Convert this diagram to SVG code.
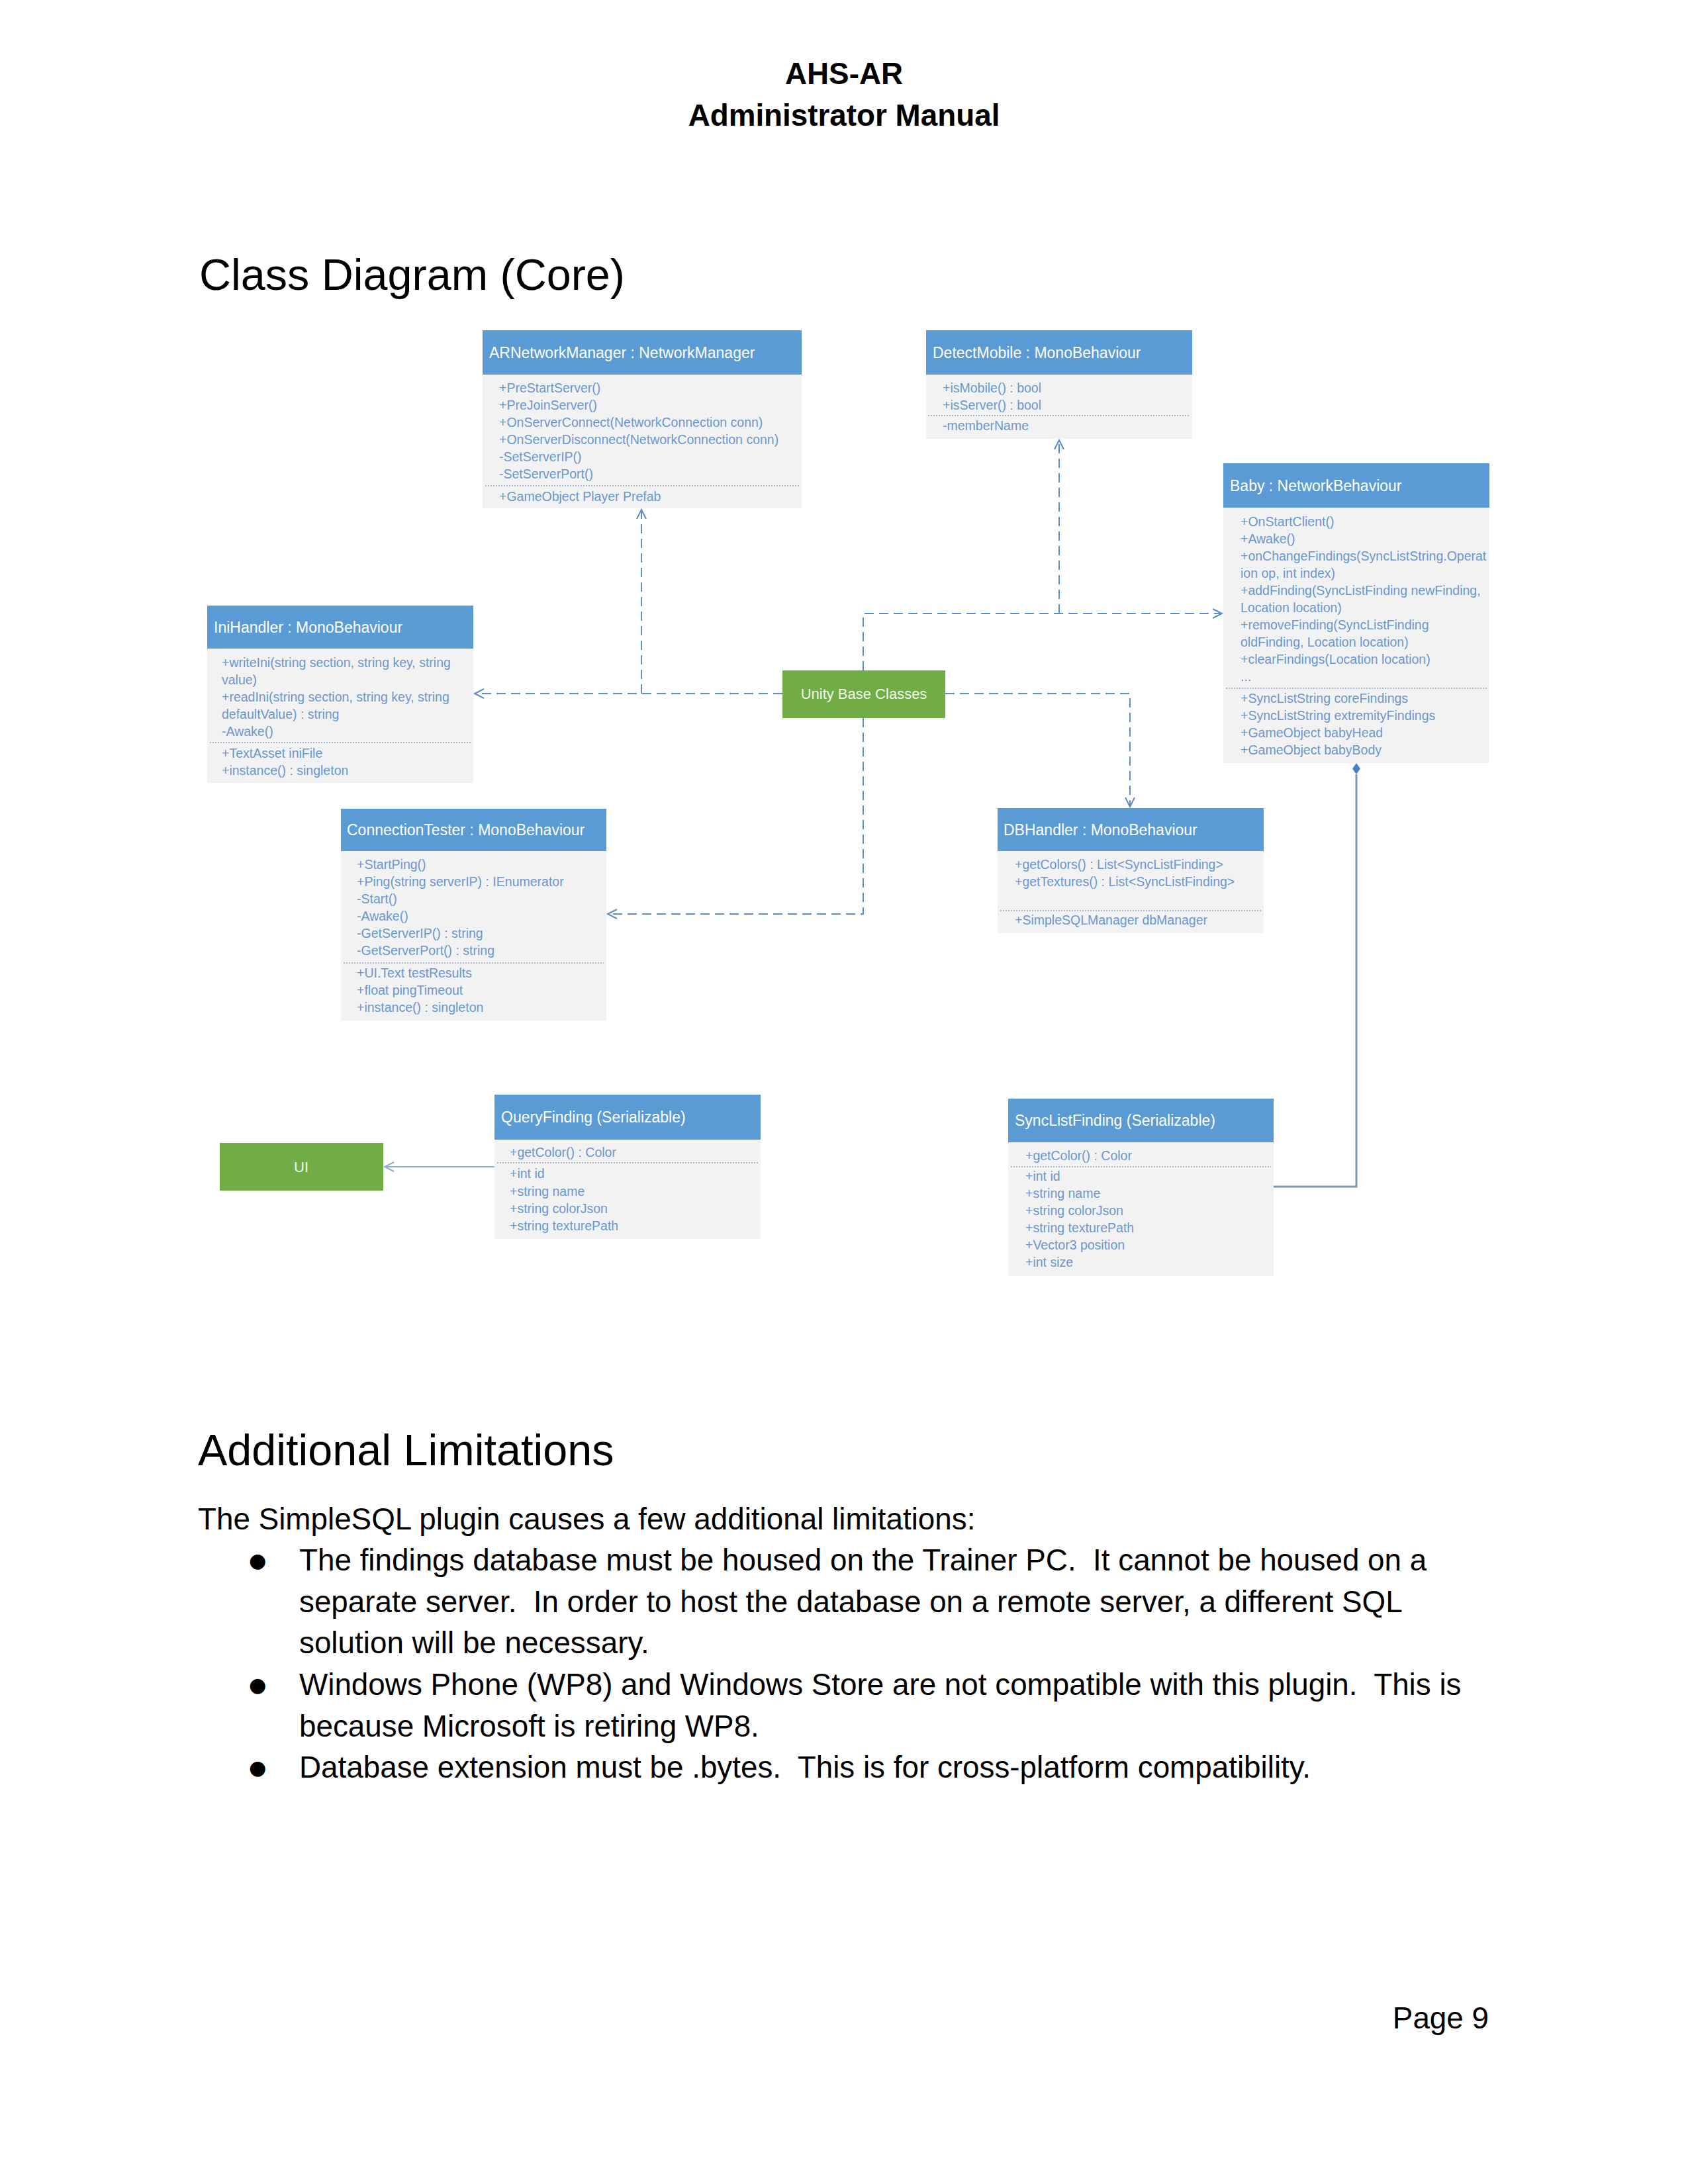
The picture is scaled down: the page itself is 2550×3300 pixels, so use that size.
<svg xmlns="http://www.w3.org/2000/svg" width="2550" height="3300" viewBox="0 0 2550 3300">
<style>
.page{font-family:"Liberation Sans",Arial,sans-serif;fill:#000}
.page text{white-space:pre}
.hdr{fill:#5B9BD5}
.bdy{fill:#F2F2F2}
.ht{font-family:"Liberation Sans",Arial,sans-serif;font-size:23px;fill:#ffffff}
.it{font-family:"Liberation Sans",Arial,sans-serif;font-size:19.5px;fill:#6b97cf}
.sep{stroke:#8ea3c0;stroke-width:1.5;stroke-dasharray:2 2;fill:none}
.grn{fill:#70AD47}
.gt{font-family:"Liberation Sans",Arial,sans-serif;font-size:22px;fill:#f2f8ec;text-anchor:middle}
.dash{stroke:#5d8cc6;stroke-width:2;fill:none;stroke-dasharray:14 8}
.bul{font-family:"DejaVu Sans",sans-serif;font-size:30px}
</style>
<defs>
<marker id="open" markerWidth="20" markerHeight="20" refX="15" refY="8" orient="auto" markerUnits="userSpaceOnUse">
<path d="M1,1 L15,8 L1,15" fill="none" stroke="#5d8cc6" stroke-width="2"/>
</marker>
<marker id="open2" markerWidth="20" markerHeight="20" refX="15" refY="8" orient="auto" markerUnits="userSpaceOnUse">
<path d="M1,1 L15,8 L1,15" fill="none" stroke="#8fb0d8" stroke-width="2"/>
</marker>
</defs>
<rect width="2550" height="3300" fill="#ffffff"/>

<g id="page-header" class="page">
<text x="1275" y="127" font-size="45.8" font-weight="bold" text-anchor="middle">AHS-AR</text>
<text x="1275" y="190" font-size="45.8" font-weight="bold" text-anchor="middle">Administrator Manual</text>
<text x="301" y="438" font-size="66.5">Class Diagram (Core)</text>
</g>

<g id="connectors">
<path class="dash" d="M1182,1048 H717" marker-end="url(#open)"/>
<path class="dash" d="M969,1048 V770" marker-end="url(#open)"/>
<path class="dash" d="M1304,1013 V927 H1846" marker-end="url(#open)"/>
<path class="dash" d="M1600,927 V665" marker-end="url(#open)"/>
<path class="dash" d="M1428,1048 H1707 V1219" marker-end="url(#open)"/>
<path class="dash" d="M1304,1085 V1381 H918" marker-end="url(#open)"/>
<path d="M747,1763 H581" stroke="#8fb0d8" stroke-width="2" fill="none" marker-end="url(#open2)"/>
<path d="M1924,1793 H2049 V1170" stroke="#8197b1" stroke-width="3" fill="none"/>
<path d="M2049,1153 L2055,1161.5 L2049,1170 L2043,1161.5 Z" fill="#4a80c8"/>
</g>

<g id="ARNetworkManager">
<rect class="bdy" x="729" y="499" width="482" height="269"/>
<rect class="hdr" x="729" y="499" width="482" height="67"/>
<text class="ht" x="739" y="541">ARNetworkManager : NetworkManager</text>
<text class="it" x="754" y="593">+PreStartServer()</text>
<text class="it" x="754" y="619">+PreJoinServer()</text>
<text class="it" x="754" y="645">+OnServerConnect(NetworkConnection conn)</text>
<text class="it" x="754" y="671">+OnServerDisconnect(NetworkConnection conn)</text>
<text class="it" x="754" y="697">-SetServerIP()</text>
<text class="it" x="754" y="723">-SetServerPort()</text>
<line class="sep" x1="733" y1="734" x2="1207" y2="734"/>
<text class="it" x="754" y="757">+GameObject Player Prefab</text>
</g>

<g id="DetectMobile">
<rect class="bdy" x="1399" y="499" width="402" height="164"/>
<rect class="hdr" x="1399" y="499" width="402" height="67"/>
<text class="ht" x="1409" y="541">DetectMobile : MonoBehaviour</text>
<text class="it" x="1424" y="593">+isMobile() : bool</text>
<text class="it" x="1424" y="619">+isServer() : bool</text>
<line class="sep" x1="1402" y1="628" x2="1798" y2="628"/>
<text class="it" x="1424" y="650">-memberName</text>
</g>

<g id="Baby">
<rect class="bdy" x="1848" y="700" width="402" height="453"/>
<rect class="hdr" x="1848" y="700" width="402" height="67"/>
<text class="ht" x="1858" y="742">Baby : NetworkBehaviour</text>
<text class="it" x="1874" y="795">+OnStartClient()</text>
<text class="it" x="1874" y="821">+Awake()</text>
<text class="it" x="1874" y="847">+onChangeFindings(SyncListString.Operat</text>
<text class="it" x="1874" y="873">ion op, int index)</text>
<text class="it" x="1874" y="899">+addFinding(SyncListFinding newFinding,</text>
<text class="it" x="1874" y="925">Location location)</text>
<text class="it" x="1874" y="951">+removeFinding(SyncListFinding</text>
<text class="it" x="1874" y="977">oldFinding, Location location)</text>
<text class="it" x="1874" y="1003">+clearFindings(Location location)</text>
<text class="it" x="1874" y="1029" font-size="14">...</text>
<line class="sep" x1="1852" y1="1040" x2="2246" y2="1040"/>
<text class="it" x="1874" y="1062">+SyncListString coreFindings</text>
<text class="it" x="1874" y="1088">+SyncListString extremityFindings</text>
<text class="it" x="1874" y="1114">+GameObject babyHead</text>
<text class="it" x="1874" y="1140">+GameObject babyBody</text>
</g>

<g id="IniHandler">
<rect class="bdy" x="313" y="915" width="402" height="268"/>
<rect class="hdr" x="313" y="915" width="402" height="65"/>
<text class="ht" x="323" y="956">IniHandler : MonoBehaviour</text>
<text class="it" x="335" y="1008">+writeIni(string section, string key, string</text>
<text class="it" x="335" y="1034">value)</text>
<text class="it" x="335" y="1060">+readIni(string section, string key, string</text>
<text class="it" x="335" y="1086">defaultValue) : string</text>
<text class="it" x="335" y="1112">-Awake()</text>
<line class="sep" x1="317" y1="1122" x2="711" y2="1122"/>
<text class="it" x="335" y="1145">+TextAsset iniFile</text>
<text class="it" x="335" y="1171">+instance() : singleton</text>
</g>

<g id="UnityBaseClasses">
<rect class="grn" x="1182" y="1013" width="246" height="72"/>
<text class="gt" x="1305" y="1056">Unity Base Classes</text>
</g>

<g id="ConnectionTester">
<rect class="bdy" x="515" y="1222" width="401" height="320"/>
<rect class="hdr" x="515" y="1222" width="401" height="64"/>
<text class="ht" x="524" y="1262">ConnectionTester : MonoBehaviour</text>
<text class="it" x="539" y="1313">+StartPing()</text>
<text class="it" x="539" y="1339">+Ping(string serverIP) : IEnumerator</text>
<text class="it" x="539" y="1365">-Start()</text>
<text class="it" x="539" y="1391">-Awake()</text>
<text class="it" x="539" y="1417">-GetServerIP() : string</text>
<text class="it" x="539" y="1443">-GetServerPort() : string</text>
<line class="sep" x1="519" y1="1455" x2="912" y2="1455"/>
<text class="it" x="539" y="1477">+UI.Text testResults</text>
<text class="it" x="539" y="1503">+float pingTimeout</text>
<text class="it" x="539" y="1529">+instance() : singleton</text>
</g>

<g id="DBHandler">
<rect class="bdy" x="1507" y="1221" width="402" height="189"/>
<rect class="hdr" x="1507" y="1221" width="402" height="65"/>
<text class="ht" x="1516" y="1262">DBHandler : MonoBehaviour</text>
<text class="it" x="1533" y="1313">+getColors() : List&lt;SyncListFinding&gt;</text>
<text class="it" x="1533" y="1339">+getTextures() : List&lt;SyncListFinding&gt;</text>
<line class="sep" x1="1511" y1="1376" x2="1905" y2="1376"/>
<text class="it" x="1533" y="1397">+SimpleSQLManager dbManager</text>
</g>

<g id="UI">
<rect class="grn" x="332" y="1727" width="247" height="72"/>
<text class="gt" x="455" y="1771">UI</text>
</g>

<g id="QueryFinding">
<rect class="bdy" x="747" y="1654" width="402" height="218"/>
<rect class="hdr" x="747" y="1654" width="402" height="68"/>
<text class="ht" x="757" y="1696">QueryFinding (Serializable)</text>
<text class="it" x="770" y="1748">+getColor() : Color</text>
<line class="sep" x1="751" y1="1757" x2="1145" y2="1757"/>
<text class="it" x="770" y="1780">+int id</text>
<text class="it" x="770" y="1807">+string name</text>
<text class="it" x="770" y="1833">+string colorJson</text>
<text class="it" x="770" y="1859">+string texturePath</text>
</g>

<g id="SyncListFinding">
<rect class="bdy" x="1523" y="1660" width="401" height="268"/>
<rect class="hdr" x="1523" y="1660" width="401" height="66"/>
<text class="ht" x="1533" y="1701">SyncListFinding (Serializable)</text>
<text class="it" x="1549" y="1753">+getColor() : Color</text>
<line class="sep" x1="1527" y1="1763" x2="1920" y2="1763"/>
<text class="it" x="1549" y="1784">+int id</text>
<text class="it" x="1549" y="1810">+string name</text>
<text class="it" x="1549" y="1836">+string colorJson</text>
<text class="it" x="1549" y="1862">+string texturePath</text>
<text class="it" x="1549" y="1888">+Vector3 position</text>
<text class="it" x="1549" y="1914">+int size</text>
</g>

<g id="limitations" class="page">
<text x="299" y="2214" font-size="66.5">Additional Limitations</text>
<text x="299" y="2311" font-size="45.8">The SimpleSQL plugin causes a few additional limitations:</text>
<text class="bul" x="376" y="2368">●</text>
<text x="452" y="2373" font-size="45.8">The findings database must be housed on the Trainer PC.  It cannot be housed on a</text>
<text x="452" y="2436" font-size="45.8">separate server.  In order to host the database on a remote server, a different SQL</text>
<text x="452" y="2498" font-size="45.8">solution will be necessary.</text>
<text class="bul" x="376" y="2556">●</text>
<text x="452" y="2561" font-size="45.8">Windows Phone (WP8) and Windows Store are not compatible with this plugin.  This is</text>
<text x="452" y="2624" font-size="45.8">because Microsoft is retiring WP8.</text>
<text class="bul" x="376" y="2681">●</text>
<text x="452" y="2686" font-size="45.8">Database extension must be .bytes.  This is for cross-platform compatibility.</text>
<text x="2249" y="3065" font-size="45.8" text-anchor="end">Page 9</text>
</g>
</svg>
